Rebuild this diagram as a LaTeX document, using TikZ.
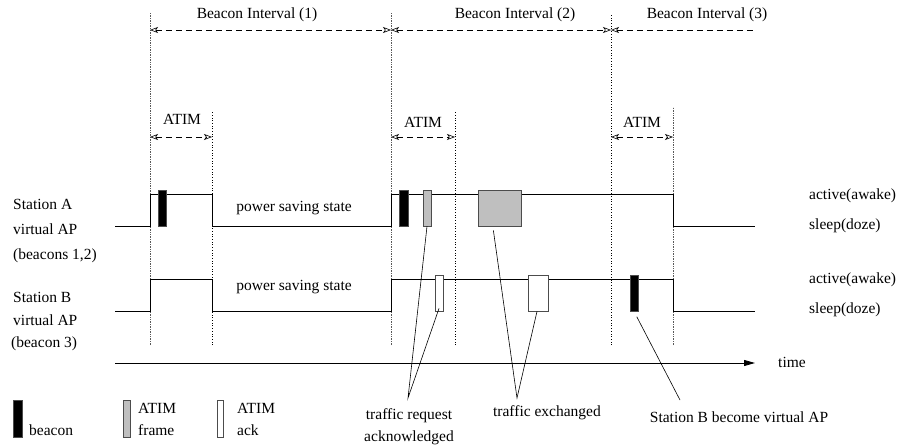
\documentclass[tikz,border=0pt]{standalone}
\usepackage{fontspec}
\setmainfont{Liberation Serif}
\usetikzlibrary{arrows.meta}
\tikzset{
  lbl/.style={font=\fontsize{15.5}{25}\selectfont, inner sep=0pt},
  sig/.style={line width=0.8pt},
  tick/.style={densely dotted, gray!70!black, line width=0.7pt},
  tickb/.style={dotted, line width=0.7pt},
  dashln/.style={dash pattern=on 6pt off 4pt, line width=0.6pt},
  intarrow/.style={dashln, {Stealth[open,length=8pt,width=6pt,inset=2pt]}-{Stealth[open,length=8pt,width=6pt,inset=2pt]}},
  pulse/.style={draw=black!70, line width=0.8pt, minimum height=36pt, inner sep=0pt, minimum width=#1},
  beaconbar/.style={pulse=#1, fill=black},
  atimframe/.style={pulse=#1, fill=black!25},
  atimack/.style={pulse=#1, fill=white},
  callout/.style={line width=0.6pt}
}
\begin{document}
\begin{tikzpicture}[x=1pt,y=1pt,yscale=-1]
\useasboundingbox (0,0) rectangle (899,447);
% Coordinates
\coordinate (v1) at (150,345);
\coordinate (v2) at (212,345);
\coordinate (v3) at (391,345);
\coordinate (v4) at (455,345);
\coordinate (v5) at (611,345);
\coordinate (v6) at (673,345);
\coordinate (biy) at (0,30);
\coordinate (aty) at (0,137);
\coordinate (biend) at (755,30);
%Dotted lines
\draw [tick] (v1) -- (150,13);
\draw [tickb] (v2) -- (212,112);
\draw [tick] (v3) -- (391,13);
\draw [tickb] (v4) -- (455,112);
\draw [tickb] (v5) -- (611,13);
\draw [tick] (v6) -- (673,107);
%Beacon intervals
\draw [intarrow] (v1 |- biy) -- (v3 |- biy);
\draw [intarrow] (v3 |- biy) -- (v5 |- biy);
\draw [dashln, {Stealth[open,length=8pt,width=6pt,inset=2pt]}-] (v5 |- biy) -- (biend);
% Text Node
\node [lbl] (bi1) at (257,15) {Beacon Interval (1)};
\node [lbl] (bi2) at (515,15) {Beacon Interval (2)};
\node [lbl] (bi3) at (707,15) {Beacon Interval (3)};
%ATIM windows
\draw [intarrow] (v1 |- aty) -- (v2 |- aty);
\draw [intarrow] (v3 |- aty) -- (v4 |- aty);
\draw [intarrow] (v5 |- aty) -- (v6 |- aty);
\node [lbl] (at1) at (182,119) {ATIM};
\node [lbl] (at2) at (423,122) {ATIM};
\node [lbl] (at3) at (642,122) {ATIM};
%Station A signal
\draw [sig] (115,226) -- (150,226) -- (150,194) -- (212,194) -- (212,226) -- (391,226) -- (391,194) -- (673,194) -- (673,226) -- (755,226);
%Station B signal
\draw [sig] (115,311) -- (150,311) -- (150,279) -- (212,279) -- (212,311) -- (391,311) -- (391,279) -- (673,279) -- (673,311) -- (755,311);
%Frames
\node [beaconbar=8pt] (bA1) at (162,208) {};
\node [beaconbar=9pt] (bA2) at (403.5,208) {};
\node [atimframe=8pt] (fA1) at (427,208) {};
\node [atimframe=43pt] (fA2) at (499.5,208) {};
\node [atimack=8pt] (kB1) at (439,293) {};
\node [atimack=20pt] (kB2) at (538,293) {};
\node [beaconbar=8pt] (bB1) at (634,293) {};
% Text Node
\node [lbl] (psA) at (294,208) {power saving state};
\node [lbl] (psB) at (294,287) {power saving state};
\node [lbl, anchor=west] (awA) at (809,196) {active(awake)};
\node [lbl, anchor=west] (slA) at (809,226) {sleep(doze)};
\node [lbl, anchor=west] (awB) at (809,280) {active(awake)};
\node [lbl, anchor=west] (slB) at (809,310) {sleep(doze)};
\node [lbl, anchor=north west, align=left] (stA) at (13,199.5) {Station A\\virtual AP\\(beacons 1,2)};
\node [lbl, anchor=north west, align=left, font=\fontsize{15.5}{22.5}\selectfont] (stB) at (11,292.5) {\hspace*{2pt}Station B\\\hspace*{2pt}virtual AP\\(beacon 3)};
%Time axis
\coordinate (t0) at (115,363);
\coordinate (t1) at (755,363);
\draw [sig, -{Stealth[length=11pt,width=6pt,inset=0pt]}] (t0) -- (t1);
\node [lbl] (tm) at (792,362) {time};
%Callouts
\coordinate (reqtip) at (408,398);
\coordinate (exctip) at (517,398);
\coordinate (vaptip) at (680,400);
\draw [callout] (fA1.south) -- (reqtip) -- ([yshift=-3pt]kB1.south);
\draw [callout, shorten <=4pt] (fA2.250) -- (exctip) -- ([xshift=-1pt]kB2.south);
\draw [callout, shorten <=6pt] (bB1.south) -- (vaptip);
\node [lbl, align=center, font=\fontsize{15.5}{22}\selectfont] (req) at (409,427) {traffic request\\acknowledged};
\node [lbl] (exc) at (547,413) {traffic exchanged};
\node [lbl] (vap) at (739,417) {Station B become virtual AP};
%Legend
\node [beaconbar=9pt, minimum height=37pt] (lg1) at (17.5,418.5) {};
\node [atimframe=7pt, minimum height=37pt] (lg2) at (126.5,418.5) {};
\node [atimack=6pt, minimum height=37pt] (lg3) at (220,418.5) {};
\node [lbl, anchor=west] (lgt1) at (29,430) {beacon};
\node [lbl, anchor=west, align=left, font=\fontsize{15.5}{22}\selectfont] (lgt2) at (138,419) {ATIM\\frame};
\node [lbl, anchor=west, align=left, font=\fontsize{15.5}{22}\selectfont] (lgt3) at (237,419) {ATIM\\ack};
\end{tikzpicture}
\end{document}
